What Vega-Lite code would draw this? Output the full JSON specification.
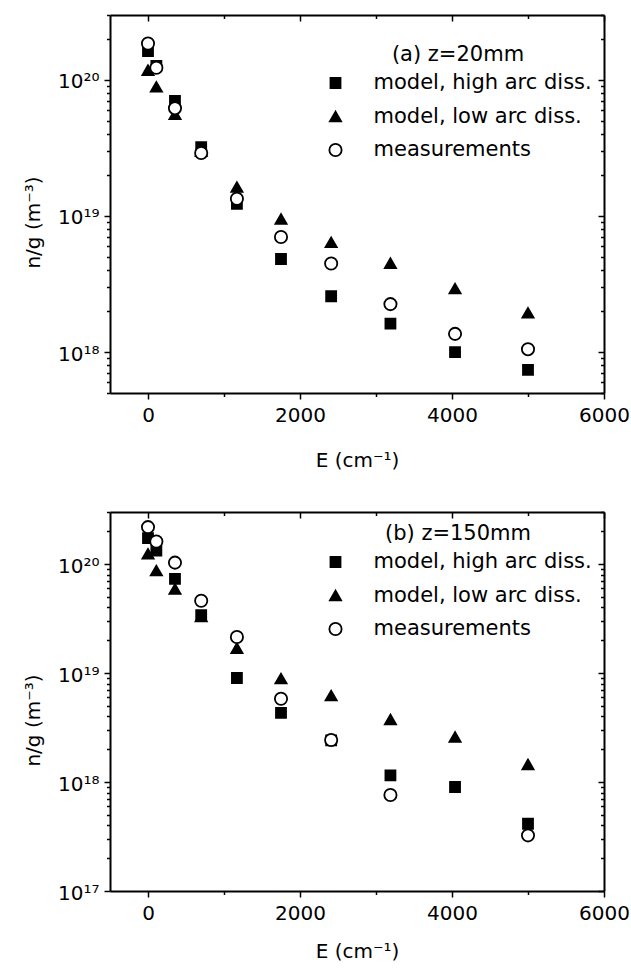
{
  "$schema": "https://vega.github.io/schema/vega-lite/v6.json",
  "padding": {"left": 23, "top": 7, "right": 5, "bottom": 0},
  "background": "white",
  "config": {
    "font": "DejaVu Sans",
    "view": {"stroke": null},
    "axis": {"grid": false, "domainColor": "black", "domainWidth": 2, "tickColor": "black", "tickWidth": 1.5, "labelColor": "black", "titleColor": "black", "labelFontSize": 20, "titleFontSize": 20, "titleFontWeight": "normal", "labelFont": "DejaVu Sans", "titleFont": "DejaVu Sans", "labelOverlap": false, "labelFlush": false},
    "legend": {"labelFontSize": 21, "titleFontSize": 21, "titleFontWeight": "normal", "labelColor": "black", "titleColor": "black", "labelOffset": 27.5, "rowPadding": 11.5, "titlePadding": 7.5, "padding": 0, "symbolStrokeColor": "black", "symbolStrokeWidth": 1.8, "labelFont": "DejaVu Sans", "titleFont": "DejaVu Sans", "labelLimit": 400, "titleLimit": 400}
  },
  "data": {"values": [
    {"panel": "a", "series": "model, high arc diss.", "E": 0, "n": 1.63e20},
    {"panel": "a", "series": "model, high arc diss.", "E": 110, "n": 1.27e20},
    {"panel": "a", "series": "model, high arc diss.", "E": 355, "n": 7.0e19},
    {"panel": "a", "series": "model, high arc diss.", "E": 700, "n": 3.2e19},
    {"panel": "a", "series": "model, high arc diss.", "E": 1170, "n": 1.23e19},
    {"panel": "a", "series": "model, high arc diss.", "E": 1750, "n": 4.83e18},
    {"panel": "a", "series": "model, high arc diss.", "E": 2410, "n": 2.57e18},
    {"panel": "a", "series": "model, high arc diss.", "E": 3190, "n": 1.62e18},
    {"panel": "a", "series": "model, high arc diss.", "E": 4040, "n": 1.0e18},
    {"panel": "a", "series": "model, high arc diss.", "E": 5000, "n": 7.4e17},
    {"panel": "a", "series": "model, low arc diss.", "E": 0, "n": 1.18e20},
    {"panel": "a", "series": "model, low arc diss.", "E": 110, "n": 8.9e19},
    {"panel": "a", "series": "model, low arc diss.", "E": 355, "n": 5.6e19},
    {"panel": "a", "series": "model, low arc diss.", "E": 700, "n": 3.0e19},
    {"panel": "a", "series": "model, low arc diss.", "E": 1170, "n": 1.63e19},
    {"panel": "a", "series": "model, low arc diss.", "E": 1750, "n": 9.5e18},
    {"panel": "a", "series": "model, low arc diss.", "E": 2410, "n": 6.4e18},
    {"panel": "a", "series": "model, low arc diss.", "E": 3190, "n": 4.5e18},
    {"panel": "a", "series": "model, low arc diss.", "E": 4040, "n": 2.93e18},
    {"panel": "a", "series": "model, low arc diss.", "E": 5000, "n": 1.94e18},
    {"panel": "a", "series": "measurements", "E": 0, "n": 1.85e20},
    {"panel": "a", "series": "measurements", "E": 110, "n": 1.23e20},
    {"panel": "a", "series": "measurements", "E": 355, "n": 6.2e19},
    {"panel": "a", "series": "measurements", "E": 700, "n": 2.9e19},
    {"panel": "a", "series": "measurements", "E": 1170, "n": 1.34e19},
    {"panel": "a", "series": "measurements", "E": 1750, "n": 7.0e18},
    {"panel": "a", "series": "measurements", "E": 2410, "n": 4.47e18},
    {"panel": "a", "series": "measurements", "E": 3190, "n": 2.25e18},
    {"panel": "a", "series": "measurements", "E": 4040, "n": 1.36e18},
    {"panel": "a", "series": "measurements", "E": 5000, "n": 1.05e18},
    {"panel": "b", "series": "model, high arc diss.", "E": 0, "n": 1.73e20},
    {"panel": "b", "series": "model, high arc diss.", "E": 110, "n": 1.33e20},
    {"panel": "b", "series": "model, high arc diss.", "E": 355, "n": 7.3e19},
    {"panel": "b", "series": "model, high arc diss.", "E": 700, "n": 3.4e19},
    {"panel": "b", "series": "model, high arc diss.", "E": 1170, "n": 9.0e18},
    {"panel": "b", "series": "model, high arc diss.", "E": 1750, "n": 4.3e18},
    {"panel": "b", "series": "model, high arc diss.", "E": 2410, "n": 2.41e18},
    {"panel": "b", "series": "model, high arc diss.", "E": 3190, "n": 1.15e18},
    {"panel": "b", "series": "model, high arc diss.", "E": 4040, "n": 9.0e17},
    {"panel": "b", "series": "model, high arc diss.", "E": 5000, "n": 4.14e17},
    {"panel": "b", "series": "model, low arc diss.", "E": 0, "n": 1.24e20},
    {"panel": "b", "series": "model, low arc diss.", "E": 110, "n": 8.7e19},
    {"panel": "b", "series": "model, low arc diss.", "E": 355, "n": 5.9e19},
    {"panel": "b", "series": "model, low arc diss.", "E": 700, "n": 3.3e19},
    {"panel": "b", "series": "model, low arc diss.", "E": 1170, "n": 1.69e19},
    {"panel": "b", "series": "model, low arc diss.", "E": 1750, "n": 8.9e18},
    {"panel": "b", "series": "model, low arc diss.", "E": 2410, "n": 6.2e18},
    {"panel": "b", "series": "model, low arc diss.", "E": 3190, "n": 3.75e18},
    {"panel": "b", "series": "model, low arc diss.", "E": 4040, "n": 2.59e18},
    {"panel": "b", "series": "model, low arc diss.", "E": 5000, "n": 1.45e18},
    {"panel": "b", "series": "measurements", "E": 0, "n": 2.18e20},
    {"panel": "b", "series": "measurements", "E": 110, "n": 1.61e20},
    {"panel": "b", "series": "measurements", "E": 355, "n": 1.03e20},
    {"panel": "b", "series": "measurements", "E": 700, "n": 4.6e19},
    {"panel": "b", "series": "measurements", "E": 1170, "n": 2.14e19},
    {"panel": "b", "series": "measurements", "E": 1750, "n": 5.8e18},
    {"panel": "b", "series": "measurements", "E": 2410, "n": 2.43e18},
    {"panel": "b", "series": "measurements", "E": 3190, "n": 7.6e17},
    {"panel": "b", "series": "measurements", "E": 5000, "n": 3.24e17}
  ]},
  "spacing": 34,
  "resolve": {"scale": {"x": "independent", "y": "independent", "shape": "independent", "fill": "independent", "stroke": "independent", "size": "independent"}},
  "vconcat": [
    {
      "width": 494,
      "height": 378,
      "transform": [{"filter": "datum.panel == 'a'"}],
      "layer": [
        {
          "mark": {"type": "point", "filled": true, "strokeWidth": 1.8, "opacity": 1},
          "encoding": {
            "x": {"field": "E", "type": "quantitative", "scale": {"domain": [-500, 6000], "nice": false, "zero": false},
              "axis": {"orient": "bottom", "values": [0, 1000, 2000, 3000, 4000, 5000, 6000], "labelExpr": "datum.value % 2000 == 0 ? format(datum.value, 'd') : ''", "tickSize": {"condition": {"test": "datum.value % 2000 == 0", "value": 6}, "value": 3.5}, "labelPadding": 6, "title": "E (cm⁻¹)", "titleBaseline": "alphabetic", "titleX": 247, "titleY": 73}},
            "y": {"field": "n", "type": "quantitative", "scale": {"type": "log", "domain": [5e17, 3e20], "nice": false},
              "axis": {"orient": "left", "values": [5e17, 6e17, 7e17, 8e17, 9e17, 1e18, 2e18, 3e18, 4e18, 5e18, 6e18, 7e18, 8e18, 9e18, 1e19, 2e19, 3e19, 4e19, 5e19, 6e19, 7e19, 8e19, 9e19, 1e20, 2e20, 3e20],
                "labelExpr": "abs(log(datum.value)/LN10 - round(log(datum.value)/LN10)) > 1e-6 ? '' : round(log(datum.value)/LN10) == 20 ? '10²⁰' : round(log(datum.value)/LN10) == 19 ? '10¹⁹' : round(log(datum.value)/LN10) == 18 ? '10¹⁸' : round(log(datum.value)/LN10) == 17 ? '10¹⁷' : ''",
                "tickSize": {"condition": {"test": "abs(log(datum.value)/LN10 - round(log(datum.value)/LN10)) < 1e-6", "value": 6}, "value": 3.5},
                "labelPadding": 5, "labelOffset": 2, "title": "n/g (m⁻³)", "titleX": -67, "titleY": 207, "titleBaseline": "bottom", "titleAngle": -90}},
            "shape": {"field": "series", "type": "nominal", "scale": {"domain": ["model, high arc diss.", "model, low arc diss.", "measurements"], "range": ["square", "triangle-up", "circle"]},
              "legend": {"title": "(a)  z=20mm", "orient": "none", "legendX": 215, "legendY": 29, "titleAnchor": "middle", "titleAlign": "center"}},
            "fill": {"field": "series", "type": "nominal", "scale": {"domain": ["model, high arc diss.", "model, low arc diss.", "measurements"], "range": ["black", "black", "white"]},
              "legend": {"title": "(a)  z=20mm", "orient": "none", "legendX": 215, "legendY": 29, "titleAnchor": "middle", "titleAlign": "center"}},
            "stroke": {"field": "series", "type": "nominal", "scale": {"domain": ["model, high arc diss.", "model, low arc diss.", "measurements"], "range": ["black", "black", "black"]},
              "legend": {"title": "(a)  z=20mm", "orient": "none", "legendX": 215, "legendY": 29, "titleAnchor": "middle", "titleAlign": "center"}},
            "size": {"field": "series", "type": "nominal", "scale": {"domain": ["model, high arc diss.", "model, low arc diss.", "measurements"], "range": [100, 150, 85]},
              "legend": {"title": "(a)  z=20mm", "orient": "none", "legendX": 215, "legendY": 29, "titleAnchor": "middle", "titleAlign": "center"}}
          }
        },
        {
          "mark": {"type": "point", "opacity": 0},
          "encoding": {
            "x": {"field": "E", "type": "quantitative", "axis": {"orient": "top", "values": [0, 1000, 2000, 3000, 4000, 5000, 6000], "labels": false, "title": null, "tickSize": {"condition": {"test": "datum.value % 2000 == 0", "value": -6}, "value": -3.5}}},
            "y": {"field": "n", "type": "quantitative", "axis": {"orient": "right", "values": [5e17, 6e17, 7e17, 8e17, 9e17, 1e18, 2e18, 3e18, 4e18, 5e18, 6e18, 7e18, 8e18, 9e18, 1e19, 2e19, 3e19, 4e19, 5e19, 6e19, 7e19, 8e19, 9e19, 1e20, 2e20, 3e20], "labels": false, "title": null, "tickSize": {"condition": {"test": "abs(log(datum.value)/LN10 - round(log(datum.value)/LN10)) < 1e-6", "value": -6}, "value": -3.5}}}
          }
        }
      ]
    },
    {
      "width": 494,
      "height": 379,
      "transform": [{"filter": "datum.panel == 'b'"}],
      "layer": [
        {
          "mark": {"type": "point", "filled": true, "strokeWidth": 1.8, "opacity": 1},
          "encoding": {
            "x": {"field": "E", "type": "quantitative", "scale": {"domain": [-500, 6000], "nice": false, "zero": false},
              "axis": {"orient": "bottom", "values": [0, 1000, 2000, 3000, 4000, 5000, 6000], "labelExpr": "datum.value % 2000 == 0 ? format(datum.value, 'd') : ''", "tickSize": {"condition": {"test": "datum.value % 2000 == 0", "value": 6}, "value": 3.5}, "labelPadding": 6, "title": "E (cm⁻¹)", "titleBaseline": "alphabetic", "titleX": 247, "titleY": 66}},
            "y": {"field": "n", "type": "quantitative", "scale": {"type": "log", "domain": [1e17, 3e20], "nice": false},
              "axis": {"orient": "left", "values": [1e17, 2e17, 3e17, 4e17, 5e17, 6e17, 7e17, 8e17, 9e17, 1e18, 2e18, 3e18, 4e18, 5e18, 6e18, 7e18, 8e18, 9e18, 1e19, 2e19, 3e19, 4e19, 5e19, 6e19, 7e19, 8e19, 9e19, 1e20, 2e20, 3e20],
                "labelExpr": "abs(log(datum.value)/LN10 - round(log(datum.value)/LN10)) > 1e-6 ? '' : round(log(datum.value)/LN10) == 20 ? '10²⁰' : round(log(datum.value)/LN10) == 19 ? '10¹⁹' : round(log(datum.value)/LN10) == 18 ? '10¹⁸' : round(log(datum.value)/LN10) == 17 ? '10¹⁷' : ''",
                "tickSize": {"condition": {"test": "abs(log(datum.value)/LN10 - round(log(datum.value)/LN10)) < 1e-6", "value": 6}, "value": 3.5},
                "labelPadding": 5, "labelOffset": 2, "title": "n/g (m⁻³)", "titleX": -67, "titleY": 208, "titleBaseline": "bottom", "titleAngle": -90}},
            "shape": {"field": "series", "type": "nominal", "scale": {"domain": ["model, high arc diss.", "model, low arc diss.", "measurements"], "range": ["square", "triangle-up", "circle"]},
              "legend": {"title": "(b)  z=150mm", "orient": "none", "legendX": 215, "legendY": 11, "titleAnchor": "middle", "titleAlign": "center"}},
            "fill": {"field": "series", "type": "nominal", "scale": {"domain": ["model, high arc diss.", "model, low arc diss.", "measurements"], "range": ["black", "black", "white"]},
              "legend": {"title": "(b)  z=150mm", "orient": "none", "legendX": 215, "legendY": 11, "titleAnchor": "middle", "titleAlign": "center"}},
            "stroke": {"field": "series", "type": "nominal", "scale": {"domain": ["model, high arc diss.", "model, low arc diss.", "measurements"], "range": ["black", "black", "black"]},
              "legend": {"title": "(b)  z=150mm", "orient": "none", "legendX": 215, "legendY": 11, "titleAnchor": "middle", "titleAlign": "center"}},
            "size": {"field": "series", "type": "nominal", "scale": {"domain": ["model, high arc diss.", "model, low arc diss.", "measurements"], "range": [100, 150, 85]},
              "legend": {"title": "(b)  z=150mm", "orient": "none", "legendX": 215, "legendY": 11, "titleAnchor": "middle", "titleAlign": "center"}}
          }
        },
        {
          "mark": {"type": "point", "opacity": 0},
          "encoding": {
            "x": {"field": "E", "type": "quantitative", "axis": {"orient": "top", "values": [0, 1000, 2000, 3000, 4000, 5000, 6000], "labels": false, "title": null, "tickSize": {"condition": {"test": "datum.value % 2000 == 0", "value": -6}, "value": -3.5}}},
            "y": {"field": "n", "type": "quantitative", "axis": {"orient": "right", "values": [1e17, 2e17, 3e17, 4e17, 5e17, 6e17, 7e17, 8e17, 9e17, 1e18, 2e18, 3e18, 4e18, 5e18, 6e18, 7e18, 8e18, 9e18, 1e19, 2e19, 3e19, 4e19, 5e19, 6e19, 7e19, 8e19, 9e19, 1e20, 2e20, 3e20], "labels": false, "title": null, "tickSize": {"condition": {"test": "abs(log(datum.value)/LN10 - round(log(datum.value)/LN10)) < 1e-6", "value": -6}, "value": -3.5}}}
          }
        }
      ]
    }
  ]
}
